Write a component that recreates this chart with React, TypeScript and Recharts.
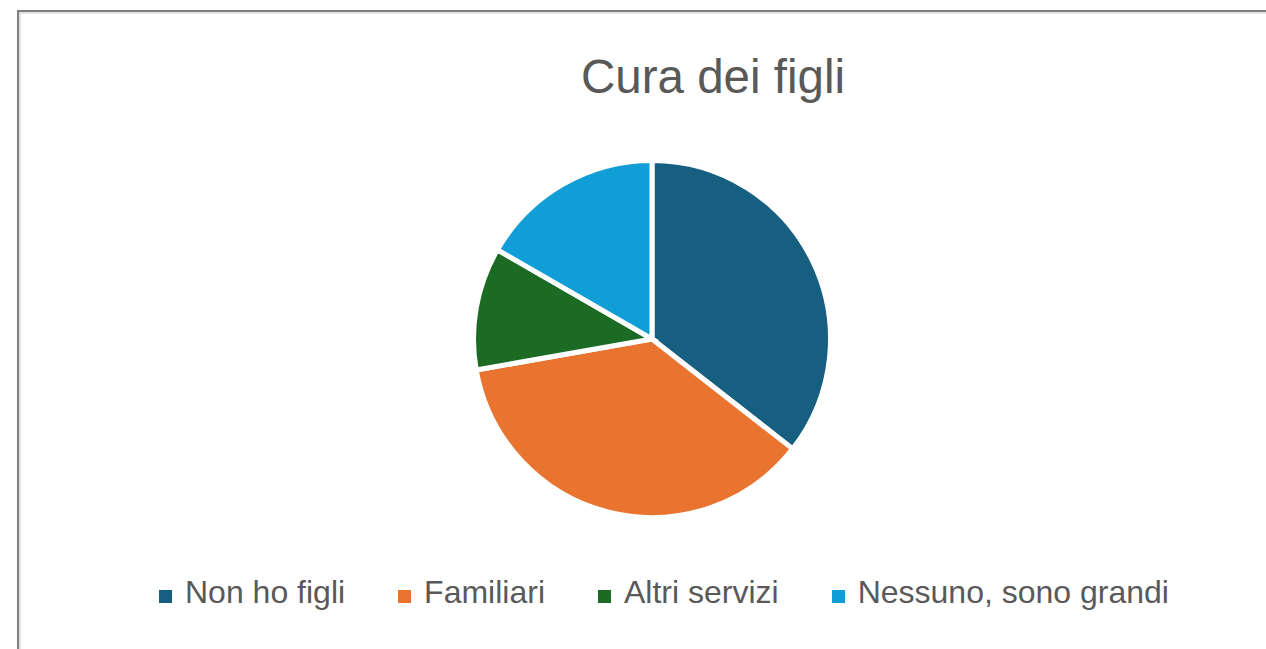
import React from 'react';
import { PieChart, Pie, Cell, Legend } from 'recharts';

// risposte alla domanda "Cura dei figli"
const categories = ['Non ho figli', 'Familiari', 'Altri servizi', 'Nessuno, sono grandi'];
const values = [32, 33, 10, 15];
const colors = ['#165F81', '#E8742F', '#1B6B24', '#119ED6'];

const data = categories.map((name, i) => ({ name, value: values[i] }));

const textColor = '#595959';
const fontFamily = '"Liberation Sans", Arial, sans-serif';

const renderLegend = (props: any) => {
  // tengo l'ordine delle categorie, non quello alfabetico
  const payload = [...(props.payload || [])].sort(
    (a: any, b: any) => categories.indexOf(a.value) - categories.indexOf(b.value)
  );
  return (
    <div style={{ display: 'flex', alignItems: 'center', paddingLeft: 138 }}>
      {payload.map((entry: any, i: number) => (
        <div key={i} style={{ display: 'flex', alignItems: 'center', marginRight: i < payload.length - 1 ? 53 : 0 }}>
          <span style={{ display: 'inline-block', width: 13, height: 13, background: entry.color, marginRight: 13 }} />
          <span
            style={{
              fontSize: 32,
              lineHeight: '36px',
              color: textColor,
              position: 'relative',
              top: -4,
              whiteSpace: 'nowrap',
            }}
          >
            {entry.value}
          </span>
        </div>
      ))}
    </div>
  );
};

export default function App() {
  return (
    <div
      style={{
        position: 'absolute',
        left: 17,
        top: 10,
        width: 1249,
        height: 639,
        borderTop: '2px solid #7f7f7f',
        borderLeft: '2px solid #7f7f7f',
        boxSizing: 'border-box',
        overflow: 'hidden',
        fontFamily,
        background: '#fff',
      }}
    >
      <div
        style={{
          position: 'relative',
          width: 1247,
          height: 637,
          borderTop: '2px solid #e2e2e2',
          borderLeft: '2px solid #e2e2e2',
          boxSizing: 'border-box',
        }}
      >
        <div
          style={{
            position: 'absolute',
            left: 392,
            top: 39,
            width: 600,
            textAlign: 'center',
            fontSize: 47.5,
            lineHeight: '47px',
            color: textColor,
            whiteSpace: 'nowrap',
          }}
        >
          Cura dei figli
        </div>
        <PieChart width={1245} height={635} margin={{ top: 0, right: 0, bottom: 0, left: 0 }}>
          <Pie
            data={data}
            dataKey="value"
            nameKey="name"
            cx={631}
            cy={325}
            outerRadius={178.5}
            startAngle={90}
            endAngle={-270}
            stroke="#ffffff"
            strokeWidth={5}
            isAnimationActive={false}
          >
            {data.map((d, i) => (
              <Cell key={d.name} fill={colors[i]} />
            ))}
          </Pie>
          <Legend
            content={renderLegend}
            wrapperStyle={{ left: 0, top: 564, width: 1245 }}
          />
        </PieChart>
      </div>
    </div>
  );
}
